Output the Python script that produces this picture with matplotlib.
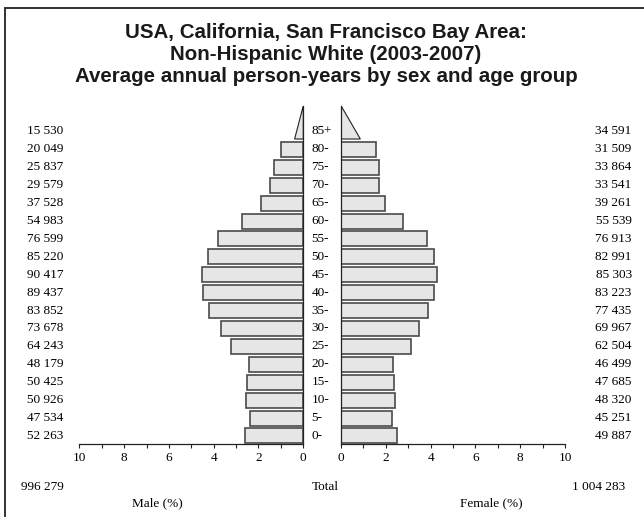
import matplotlib
matplotlib.use('Agg')
from matplotlib import pyplot as plt
from matplotlib.patches import Polygon, Rectangle
from matplotlib.transforms import blended_transform_factory

# Data
ages = ['0-', '5-', '10-', '15-', '20-', '25-', '30-', '35-', '40-', '45-',
        '50-', '55-', '60-', '65-', '70-', '75-', '80-', '85+']
male = [52263, 47534, 50926, 50425, 48179, 64243, 73678, 83852, 89437, 90417,
        85220, 76599, 54983, 37528, 29579, 25837, 20049, 15530]
female = [49887, 45251, 48320, 47685, 46499, 62504, 69967, 77435, 83223, 85303,
          82991, 76913, 55539, 39261, 33541, 33864, 31509, 34591]
male_total = '996 279'
female_total = '1 004 283'
title_lines = ['USA, California, San Francisco Bay Area:',
               'Non-Hispanic White (2003-2007)',
               'Average annual person-years by sex and age group']

W, H = 644, 517
def fx(px):
    return px / W
def fy(py):
    return 1 - py / H

def fmt(v):
    return f'{v:,}'.replace(',', ' ')

# percentages of the whole population
total = sum(male) + sum(female)
male_pct = [v / total * 100 for v in male]
female_pct = [v / total * 100 for v in female]

serif = 'Liberation Serif'
fs = 9.5
face = '#e6e6e6'
edge = '#4a4a4a'
bh = 0.84

fig = plt.figure(figsize=(W / 100, H / 100), dpi=100)

# frame (only top and left edges visible)
fig.add_artist(Rectangle((fx(5), -0.5), 1.5, fy(8.3) + 0.5, transform=fig.transFigure,
                         fill=False, edgecolor='#222222', linewidth=1.3, clip_on=False))

ax_m = fig.add_axes([fx(79.3), fy(444), fx(303.3) - fx(79.3), fy(105.7) - fy(444)])
ax_f = fig.add_axes([fx(341), fy(444), fx(565) - fx(341), fy(105.7) - fy(444)])

n = len(ages)
ypos = list(range(n))
top = 18.44

for ax, pct in [(ax_m, male_pct), (ax_f, female_pct)]:
    ax.barh(ypos[:-1], pct[:-1], height=bh, color=face, edgecolor=edge, linewidth=1.2)
    # open-ended age group drawn as a triangle
    base = ypos[-1] - bh / 2
    tri = Polygon([(0, base), (pct[-1] / 2, base), (0, top)], closed=True,
                  facecolor=face, edgecolor='#222222', linewidth=0.8)
    ax.add_patch(tri)
    ax.set_ylim(-0.45, top)
    ax.set_yticks([])
    ax.set_xticks(range(0, 11, 2))
    ax.set_xticks(range(1, 11, 2), minor=True)
    ax.tick_params(axis='x', which='both', direction='out', length=3, width=0.8,
                   pad=3, labelsize=fs, color='#222222')
    for lab in ax.get_xticklabels():
        lab.set_family(serif)
    ax.spines['top'].set_visible(False)
    for s in ax.spines.values():
        s.set_linewidth(0.9)
        s.set_color('#222222')

ax_m.set_xlim(10, 0)
ax_m.spines['left'].set_visible(False)
ax_f.set_xlim(0, 10)
ax_f.spines['right'].set_visible(False)

# side labels
tr = blended_transform_factory(fig.transFigure, ax_m.transData)
for i in range(n):
    fig.text(fx(63.3), ypos[i], fmt(male[i]), transform=tr, ha='right', va='center',
             family=serif, fontsize=fs)
    fig.text(fx(631.7), ypos[i], fmt(female[i]), transform=tr, ha='right', va='center',
             family=serif, fontsize=fs)
    fig.text(fx(311.5), ypos[i], ages[i], transform=tr, ha='left', va='center',
             family=serif, fontsize=fs)

fig.text(fx(63.3), fy(487), male_total, ha='right', va='center', family=serif, fontsize=fs)
fig.text(fx(311.5), fy(487), 'Total', ha='left', va='center', family=serif, fontsize=fs)
fig.text(fx(625), fy(487), female_total, ha='right', va='center', family=serif, fontsize=fs)
fig.text(fx(157.7), fy(503), 'Male (%)', ha='center', va='center', family=serif, fontsize=fs)
fig.text(fx(491.7), fy(503), 'Female (%)', ha='center', va='center', family=serif, fontsize=fs)

# title
for line, by in zip(title_lines, [38.5, 60, 81.5]):
    fig.text(fx(326), fy(by), line, ha='center', va='baseline', fontsize=14.8,
             fontweight='bold', family='Liberation Sans', color='#1a1a1a')

fig.savefig('out.png', dpi=100)
